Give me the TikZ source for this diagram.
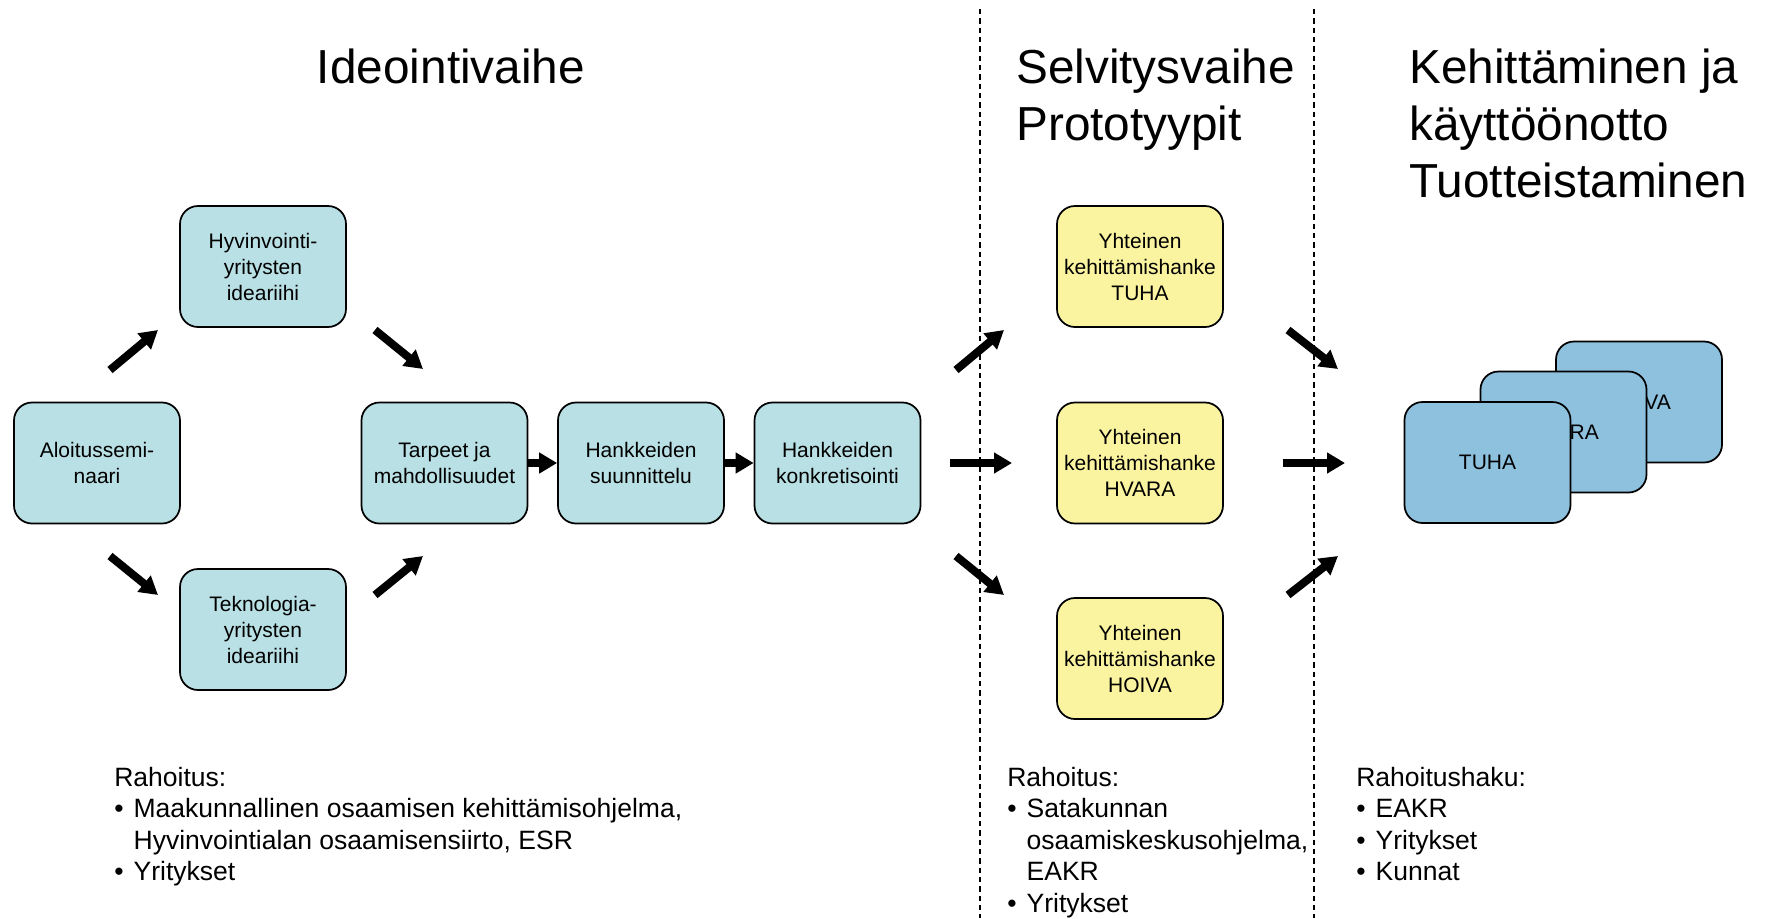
\documentclass[tikz,border=0pt]{standalone}
\usepackage{fontspec}
\setmainfont{Liberation Sans}
\usepackage{tikz}
\usetikzlibrary{arrows.meta}

\definecolor{ideabox}{RGB}{185,224,228}
\definecolor{projbox}{RGB}{250,244,160}
\definecolor{prodbox}{RGB}{141,193,222}

\newcommand{\boxfont}{\fontsize{15.75pt}{19.5pt}\selectfont}
\newcommand{\titlefont}{\fontsize{35.8pt}{42.75pt}\selectfont}
\newcommand{\notefont}{\fontsize{19.9pt}{23.6pt}\selectfont}
\newcommand{\itm}{\makebox[14.5pt][l]{\textbullet}}
\newcommand{\cnt}{\hspace*{14.5pt}}

\tikzset{
  phase/.style={draw, line width=1.3pt, rounded corners=13.5pt, fill=ideabox,
    minimum width=124.5pt, minimum height=90.75pt, inner sep=0pt,
    align=center, font=\boxfont},
  project/.style={phase, fill=projbox},
  product/.style={phase, fill=prodbox},
  bigarrow/.style={line width=6pt, -{Triangle[length=13.5pt,width=15pt]}},
  divider/.style={line width=1pt, dash pattern=on 4pt off 3pt},
  note/.style={anchor=north west, inner sep=0pt, align=left, font=\notefont}
}

\begin{document}
\begin{tikzpicture}[x=0.75pt,y=0.75pt,yscale=-1,xscale=1]
\useasboundingbox (0,0) rectangle (1767,918);

% Dividers
\draw [divider] (980,9) -- (980,918);
\draw [divider] (1314,9) -- (1314,918);

% Titles
\node [anchor=north, inner sep=0pt, font=\titlefont] (t1) at (451,49) {Ideointivaihe};
\node [anchor=north west, inner sep=0pt, align=left, font=\titlefont] (t2) at (1016,49) {Selvitysvaihe\\Prototyypit};
\node [anchor=north west, inner sep=0pt, align=left, font=\titlefont] (t3) at (1409,49) {Kehitt\"aminen ja\\k\"aytt\"o\"onotto\\Tuotteistaminen};

% Idea phase boxes
\node [phase] (alo) at (97,463) {Aloitussemi-\\naari};
\node [phase] (hyv) at (263,266.5) {Hyvinvointi-\\yritysten\\ideariihi};
\node [phase] (tek) at (263,629.5) {Teknologia-\\yritysten\\ideariihi};
\node [phase] (tar) at (444.5,463) {Tarpeet ja\\mahdollisuudet};
\node [phase] (suu) at (641,463) {Hankkeiden\\suunnittelu};
\node [phase] (kon) at (837.5,463) {Hankkeiden\\konkretisointi};

% Joint projects
\node [project] (ptuha) at (1140,266.5) {Yhteinen\\kehitt\"amishanke\\TUHA};
\node [project] (phvara) at (1140,463) {Yhteinen\\kehitt\"amishanke\\HVARA};
\node [project] (phoiva) at (1140,658.5) {Yhteinen\\kehitt\"amishanke\\HOIVA};

% Products, back to front
\node [product] (dhoiva) at (1639,402) {HOIVA};
\node [product] (dhvara) at (1563.5,432) {HVARA};
\node [product] (dtuha) at (1487.5,462.5) {TUHA};

% Arrow ends
\coordinate (a1s) at (110,370); \coordinate (a1e) at (158,330);
\coordinate (a2s) at (375,330); \coordinate (a2e) at (423,369);
\coordinate (a3s) at (110,556); \coordinate (a3e) at (158,595);
\coordinate (a4s) at (375,595); \coordinate (a4e) at (423,556);
\coordinate (k1s) at (956,370); \coordinate (k1e) at (1004,330);
\coordinate (k2s) at (950,463); \coordinate (k2e) at (1012,463);
\coordinate (k3s) at (956,556); \coordinate (k3e) at (1004,595);
\coordinate (y1s) at (1288,330); \coordinate (y1e) at (1338,369);
\coordinate (y2s) at (1283,463); \coordinate (y2e) at (1345,463);
\coordinate (y3s) at (1288,595); \coordinate (y3e) at (1338,556);

% Arrows
\draw [bigarrow] (a1s) -- (a1e);
\draw [bigarrow] (a2s) -- (a2e);
\draw [bigarrow] (a3s) -- (a3e);
\draw [bigarrow] (a4s) -- (a4e);
\draw [bigarrow] (tar) -- (suu);
\draw [bigarrow] (suu) -- (kon);
\draw [bigarrow] (k1s) -- (k1e);
\draw [bigarrow] (k2s) -- (k2e);
\draw [bigarrow] (k3s) -- (k3e);
\draw [bigarrow] (y1s) -- (y1e);
\draw [bigarrow] (y2s) -- (y2e);
\draw [bigarrow] (y3s) -- (y3e);

% Funding notes
\node [note] (n1) at (114,767) {Rahoitus:\\
  \itm Maakunnallinen osaamisen kehitt\"amisohjelma,\\
  \cnt Hyvinvointialan osaamisensiirto, ESR\\
  \itm Yritykset};
\node [note] (n2) at (1007,767) {Rahoitus:\\
  \itm Satakunnan\\
  \cnt osaamiskeskusohjelma,\\
  \cnt EAKR\\
  \itm Yritykset};
\node [note] (n3) at (1356,767) {Rahoitushaku:\\
  \itm EAKR\\
  \itm Yritykset\\
  \itm Kunnat};

\end{tikzpicture}
\end{document}
